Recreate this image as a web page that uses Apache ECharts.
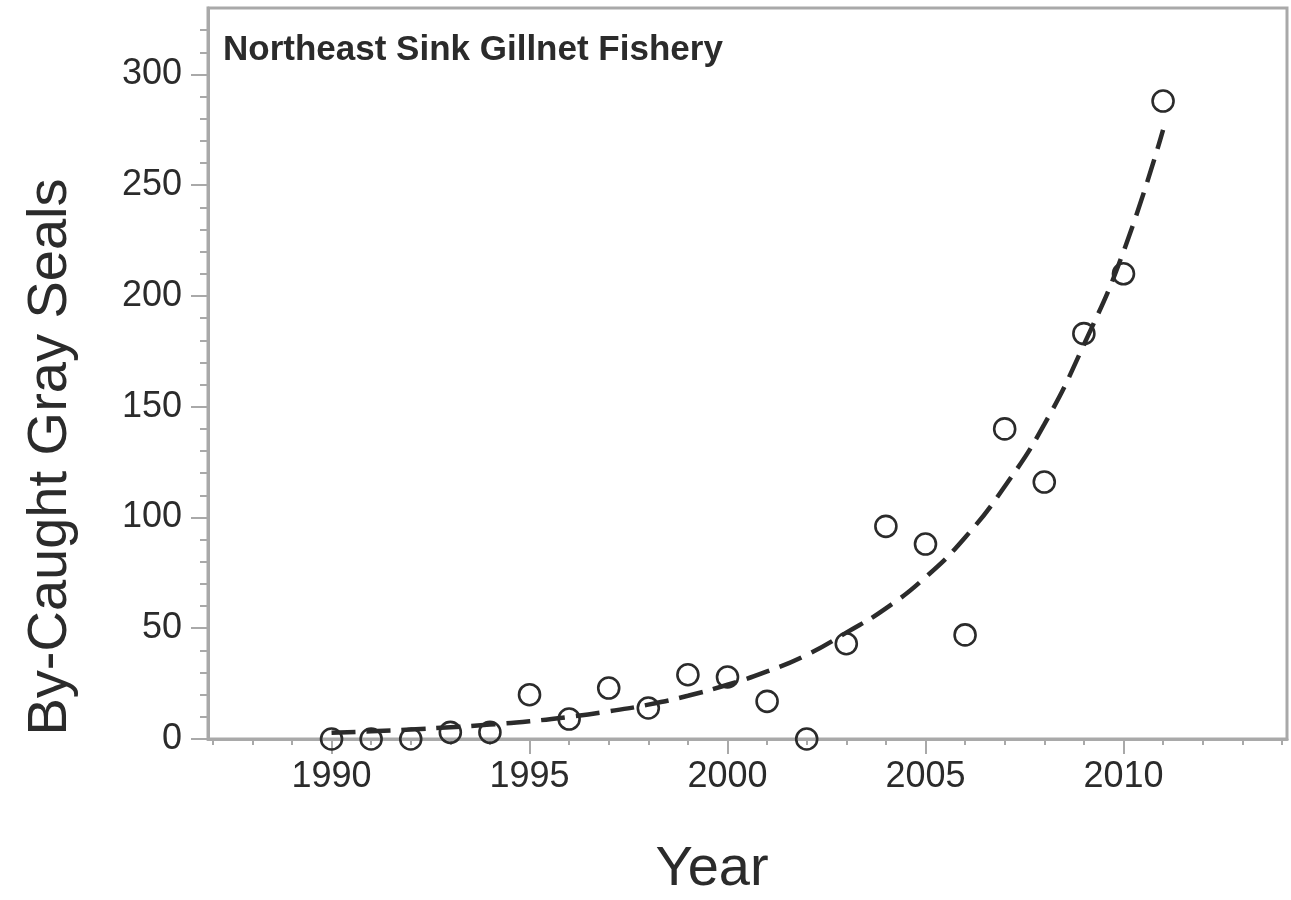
<!DOCTYPE html>
<html>
<head>
<meta charset="utf-8">
<script src="https://cdn.jsdelivr.net/npm/echarts@6/dist/echarts.min.js"></script>
<style>
html,body{margin:0;padding:0;background:#fff;}
#chart{width:1291px;height:900px;}
</style>
</head>
<body>
<div id="chart"></div>
<script>
const years = [1990,1991,1992,1993,1994,1995,1996,1997,1998,1999,2000,2001,2002,2003,2004,2005,2006,2007,2008,2009,2010,2011];
const bycaught = [0,0,0,3,3,20,9,23,14,29,28,17,0,43,96,88,47,140,116,183,210,288];
const fitValues = [2.8,3.5,4.3,5.3,6.5,8,10,12.5,15.5,19.5,24.5,30.5,38,48,59,73,91,114,142,178,220,275];
const xMajorTicks = [1990,1995,2000,2005,2010];
const xMinorTicks = [1987,1988,1989,1990,1991,1992,1993,1994,1995,1996,1997,1998,1999,2000,2001,2002,2003,2004,2005,2006,2007,2008,2009,2010,2011,2012,2013,2014];
const yMajorTicks = [0,50,100,150,200,250,300];
const yMinorTicks = [0,10,20,30,40,50,60,70,80,90,100,110,120,130,140,150,160,170,180,190,200,210,220,230,240,250,260,270,280,290,300,310,320];
const titleText = 'Northeast Sink Gillnet Fishery';
const xName = 'Year';
const yName = 'By-Caught Gray Seals';

const chart = echarts.init(document.getElementById('chart'), null, {renderer:'canvas'});
const FONT = '"Liberation Sans", Arial, sans-serif';
const axisGray = '#a9a9a9';
const xMin = 1986.88, xMax = 2014.13;
const yMin = 0, yMax = 330;

const option = {
  animation: false,
  backgroundColor: '#fff',
  grid: {left: 208, right: 4, top: 8, bottom: 161, show: true, borderColor: axisGray, borderWidth: 3, backgroundColor: 'transparent'},
  title: {
    text: titleText, left: 218, top: 28,
    textStyle: {fontFamily: FONT, fontWeight: 'bold', fontSize: 35, color: '#2b2b2b'}
  },
  graphic: [
    {type: 'text', x: 712, y: 870, style: {text: xName, font: '56px ' + FONT, fill: '#2b2b2b', textAlign: 'center', textVerticalAlign: 'middle'}},
    {type: 'text', x: 51, y: 457, rotation: Math.PI/2, style: {text: yName, font: '56px ' + FONT, fill: '#2b2b2b', textAlign: 'center', textVerticalAlign: 'middle'}}
  ],
  xAxis: [
    {
      type: 'value', position: 'bottom', min: xMin, max: xMax,
      axisLine: {show: true, onZero: false, lineStyle: {color: axisGray, width: 3}},
      axisTick: {show: true, customValues: xMajorTicks, length: 15, lineStyle: {color: axisGray, width: 2}},
      axisLabel: {show: true, customValues: xMajorTicks, margin: 20, fontSize: 36, fontFamily: FONT, color: '#2b2b2b', formatter: v => String(v)},
      splitLine: {show: false}
    },
    {
      type: 'value', position: 'bottom', min: xMin, max: xMax,
      axisLine: {show: false},
      axisTick: {show: true, customValues: xMinorTicks, length: 6, lineStyle: {color: axisGray, width: 2}},
      axisLabel: {show: false},
      splitLine: {show: false}
    }
  ],
  yAxis: [
    {
      type: 'value', position: 'left', min: yMin, max: yMax,
      axisLine: {show: true, onZero: false, lineStyle: {color: axisGray, width: 3}},
      axisTick: {show: true, customValues: yMajorTicks, length: 17, lineStyle: {color: axisGray, width: 2}},
      axisLabel: {show: true, customValues: yMajorTicks, margin: 26, fontSize: 36, fontFamily: FONT, color: '#2b2b2b'},
      splitLine: {show: false}
    },
    {
      type: 'value', position: 'left', min: yMin, max: yMax,
      axisLine: {show: false},
      axisTick: {show: true, customValues: yMinorTicks, length: 8, lineStyle: {color: axisGray, width: 2}},
      axisLabel: {show: false},
      splitLine: {show: false}
    }
  ],
  series: [
    {
      type: 'line', xAxisIndex: 0, yAxisIndex: 0,
      data: years.map((y, i) => [y, fitValues[i]]),
      smooth: true, showSymbol: false, symbol: 'none',
      lineStyle: {color: '#2b2b2b', width: 4.5, type: [24, 11]},
      z: 2
    },
    {
      type: 'scatter', xAxisIndex: 0, yAxisIndex: 0,
      data: years.map((y, i) => [y, bycaught[i]]),
      symbol: 'circle', symbolSize: 21,
      itemStyle: {color: 'rgba(0,0,0,0)', borderColor: '#2b2b2b', borderWidth: 2.6, opacity: 1},
      z: 3
    }
  ]
};
chart.setOption(option);
</script>
</body>
</html>
